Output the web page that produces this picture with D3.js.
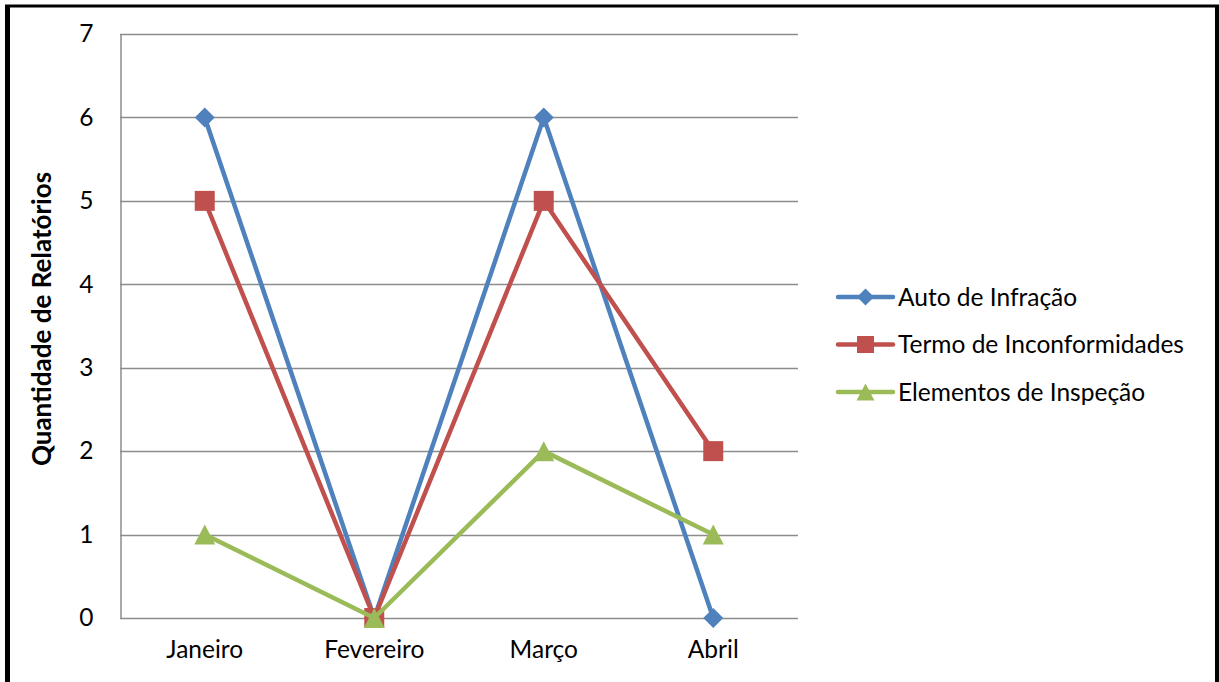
<!DOCTYPE html>
<html>
<head>
<meta charset="utf-8">
<script src="https://cdn.jsdelivr.net/npm/d3@7"></script>
<style>
  html, body { margin: 0; padding: 0; background: #fff; }
  svg { display: block; }
  text { font-family: Lato, "Open Sans", sans-serif; fill: #000; }
</style>
</head>
<body>
<svg id="chart" width="1219" height="682"></svg>
<script>
// Monthly report counts
const months = ["Janeiro", "Fevereiro", "Março", "Abril"];
const autoInfracao = [6, 0, 6, 0];
const termoInconformidades = [5, 0, 5, 2];
const elementosInspecao = [1, 0, 2, 1];
const yTicks = [0, 1, 2, 3, 4, 5, 6, 7];
const seriesNames = ["Auto de Infração", "Termo de Inconformidades", "Elementos de Inspeção"];
const seriesColors = ["#4F81BD", "#C0504D", "#9BBB59"];
const seriesMarkers = ["diamond", "square", "triangle"];
const yTitle = "Quantidade de Relatórios";

const series = [autoInfracao, termoInconformidades, elementosInspecao].map((values, i) => ({
  name: seriesNames[i], color: seriesColors[i], marker: seriesMarkers[i], values
}));

const FONT = 24.5;
const svg = d3.select("#chart");
const plot = { left: 120, top: 34, right: 798, bottom: 618 };

// Outer frame
svg.append("line").attr("x1", 5).attr("x2", 1219).attr("y1", 6).attr("y2", 6)
  .attr("stroke", "#000").attr("stroke-width", 3);
svg.append("line").attr("x1", 7.5).attr("x2", 7.5).attr("y1", 5).attr("y2", 682)
  .attr("stroke", "#000").attr("stroke-width", 5);
svg.append("line").attr("x1", 1217).attr("x2", 1217).attr("y1", 5).attr("y2", 682)
  .attr("stroke", "#000").attr("stroke-width", 4);

const x = d3.scaleBand().domain(months).range([plot.left, plot.right]);
const y = d3.scaleLinear().domain([0, 7]).range([plot.bottom, plot.top]);
const cx = m => x(m) + x.bandwidth() / 2;

// Horizontal gridlines
svg.append("g").selectAll("line").data(yTicks).join("line")
  .attr("x1", plot.left).attr("x2", plot.right)
  .attr("y1", d => Math.round(y(d)) + 0.5).attr("y2", d => Math.round(y(d)) + 0.5)
  .attr("stroke", "#8c8c8c").attr("stroke-width", 1.5);

// Y axis
const yAxis = svg.append("g").attr("transform", `translate(${plot.left + 0.5},0)`)
  .call(d3.axisLeft(y).tickValues(yTicks).tickFormat(d3.format("d")).tickSize(0).tickPadding(27));
yAxis.select(".domain").attr("stroke", "#8c8c8c").attr("stroke-width", 1.5);
yAxis.selectAll("text").attr("font-size", FONT).attr("font-family", "Lato, sans-serif").attr("fill", "#000");

// X axis
const xAxis = svg.append("g").attr("transform", `translate(0,${plot.bottom + 0.5})`)
  .call(d3.axisBottom(x).tickSize(0).tickPadding(22));
xAxis.select(".domain").remove();
xAxis.selectAll("text").attr("font-size", FONT).attr("font-family", "Lato, sans-serif").attr("fill", "#000");

// Y title
svg.append("text")
  .attr("transform", `translate(51,319) rotate(-90)`)
  .attr("text-anchor", "middle").attr("font-size", 26).attr("font-weight", "bold")
  .text(yTitle);

// Marker shapes, centred on the origin
function markerPath(type, s) {
  if (type === "diamond") return `M0,${-s}L${s},0L0,${s}L${-s},0Z`;
  if (type === "square") return `M${-s},${-s}H${s}V${s}H${-s}Z`;
  return `M0,${-s}L${s * 1.05},${s}L${-s * 1.05},${s}Z`;
}
const markerSize = { diamond: 10, square: 10, triangle: 10 };

const line = d3.line().x((d, i) => cx(months[i])).y(d => y(d));

series.forEach(s => {
  const g = svg.append("g");
  g.append("path").datum(s.values).attr("d", line)
    .attr("fill", "none").attr("stroke", s.color).attr("stroke-width", 4.5)
    .attr("stroke-linejoin", "round").attr("stroke-linecap", "round");
  g.selectAll("path.mk").data(s.values).join("path").attr("class", "mk")
    .attr("transform", (d, i) => `translate(${cx(months[i])},${y(d)})`)
    .attr("d", markerPath(s.marker, markerSize[s.marker])).attr("fill", s.color);
});

// Legend
const legend = svg.append("g");
series.forEach((s, i) => {
  const ly = 297 + i * 47.5;
  legend.append("line").attr("x1", 838).attr("x2", 893).attr("y1", ly).attr("y2", ly)
    .attr("stroke", s.color).attr("stroke-width", 4.5).attr("stroke-linecap", "round");
  legend.append("path")
    .attr("transform", `translate(865.5,${ly})`)
    .attr("d", markerPath(s.marker, markerSize[s.marker] * 0.85))
    .attr("fill", s.color);
  legend.append("text").attr("x", 898).attr("y", ly).attr("dy", "0.35em")
    .attr("font-size", FONT).text(s.name);
});
</script>
</body>
</html>
